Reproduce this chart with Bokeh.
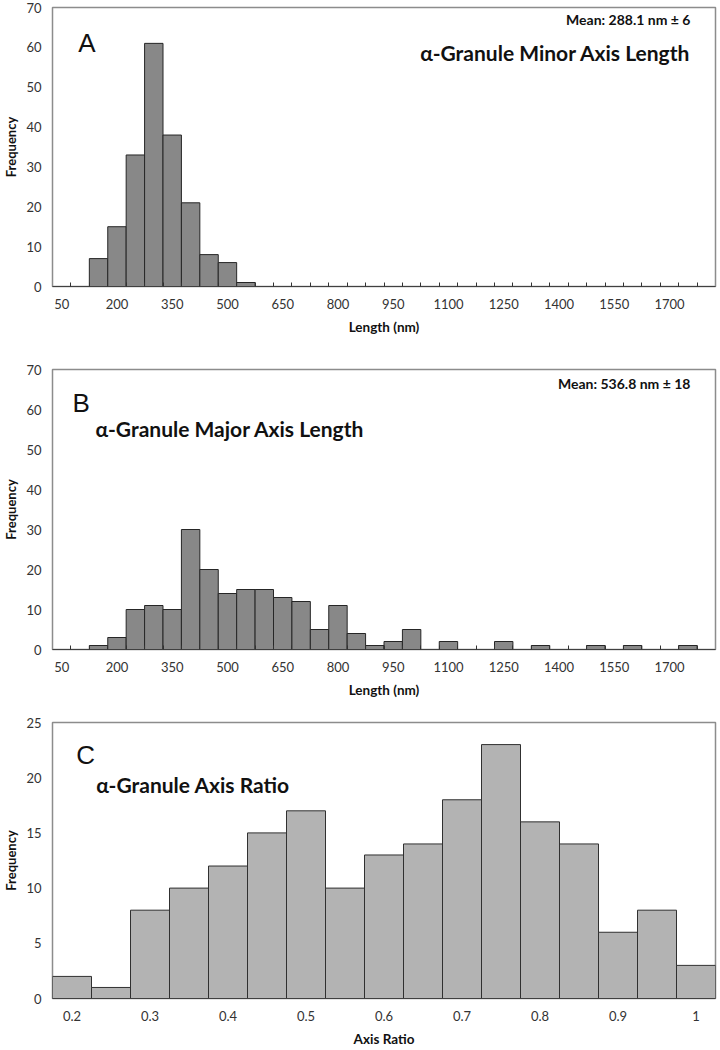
from bokeh.plotting import figure
from bokeh.models import Label, FixedTicker
from bokeh.layouts import column
from bokeh.embed import file_html
from bokeh.resources import INLINE

# ---------------- data ----------------
length_bins = [50, 100, 150, 200, 250, 300, 350, 400, 450, 500, 550, 600,
               650, 700, 750, 800, 850, 900, 950, 1000, 1050, 1100, 1150, 1200,
               1250, 1300, 1350, 1400, 1450, 1500, 1550, 1600, 1650, 1700, 1750, 1800]
minor_counts = [0, 0, 7, 15, 33, 61, 38, 21, 8, 6, 1, 0,
                0, 0, 0, 0, 0, 0, 0, 0, 0, 0, 0, 0,
                0, 0, 0, 0, 0, 0, 0, 0, 0, 0, 0, 0]
major_counts = [0, 0, 1, 3, 10, 11, 10, 30, 20, 14, 15, 15,
                13, 12, 5, 11, 4, 1, 2, 5, 0, 2, 0, 0,
                2, 0, 1, 0, 0, 1, 0, 1, 0, 0, 1, 0]
length_ticks = [50, 200, 350, 500, 650, 800, 950, 1100, 1250, 1400, 1550, 1700]
length_tick_labels = ["50", "200", "350", "500", "650", "800", "950", "1100",
                      "1250", "1400", "1550", "1700"]
length_yticks = [0, 10, 20, 30, 40, 50, 60, 70]

ratio_bins = [0.2, 0.25, 0.3, 0.35, 0.4, 0.45, 0.5, 0.55, 0.6, 0.65, 0.7,
              0.75, 0.8, 0.85, 0.9, 0.95, 1.0]
ratio_counts = [2, 1, 8, 10, 12, 15, 17, 10, 13, 14, 18, 23, 16, 14, 6, 8, 3]
ratio_ticks = [0.2, 0.3, 0.4, 0.5, 0.6, 0.7, 0.8, 0.9, 1.0]
ratio_tick_labels = ["0.2", "0.3", "0.4", "0.5", "0.6", "0.7", "0.8", "0.9", "1"]
ratio_yticks = [0, 5, 10, 15, 20, 25]

titles = ["\u03b1-Granule Minor Axis Length", "\u03b1-Granule Major Axis Length",
          "\u03b1-Granule Axis Ratio"]
means = ["Mean: 288.1 nm \u00b1 6", "Mean: 536.8 nm \u00b1 18"]
panel_letters = ["A", "B", "C"]

FONT = "Lato"
TICK_COLOR = "#333333"
LENGTH_BIN_W = 50
RATIO_BIN_W = 0.05


def style(p, xticks, xlabels, yticks, minor=None, xlabel=""):
    p.outline_line_color = "#8c8c8c"
    p.outline_line_width = 1.5
    p.xgrid.visible = False
    p.ygrid.visible = False
    p.background_fill_color = "white"
    p.border_fill_color = "white"

    xa = p.xaxis[0]
    xa.ticker = FixedTicker(ticks=xticks, minor_ticks=minor or [])
    xa.major_label_overrides = dict(zip(xticks, xlabels))
    xa.major_tick_line_color = None
    xa.major_tick_out = 0
    xa.major_tick_in = 0
    xa.minor_tick_in = 4
    xa.minor_tick_out = 0
    xa.minor_tick_line_color = "#333333" if minor else None
    xa.axis_line_color = "#404040"
    xa.major_label_text_font = FONT
    xa.major_label_text_font_size = "13px"
    xa.major_label_text_color = TICK_COLOR
    xa.major_label_standoff = 12
    xa.axis_label = xlabel
    xa.axis_label_text_font = FONT
    xa.axis_label_text_font_style = "bold"
    xa.axis_label_text_font_size = "13.5px"
    xa.axis_label_text_color = "#111111"
    xa.axis_label_standoff = 7

    ya = p.yaxis[0]
    ya.ticker = FixedTicker(ticks=yticks)
    ya.major_tick_line_color = None
    ya.minor_tick_line_color = None
    ya.major_tick_out = 0
    ya.major_tick_in = 0
    ya.axis_line_color = None
    ya.major_label_text_font = FONT
    ya.major_label_text_font_size = "13px"
    ya.major_label_text_color = TICK_COLOR
    ya.major_label_standoff = 11
    ya.axis_label = "Frequency"
    ya.axis_label_text_font = FONT
    ya.axis_label_text_font_style = "bold"
    ya.axis_label_text_font_size = "13px"
    ya.axis_label_text_color = "#111111"
    ya.axis_label_standoff = 4


def add_text(p, x, y, text, size, bold=True, align="left", font=FONT):
    p.add_layout(Label(x=x, y=y, text=text, text_font=font,
                       text_font_size=size,
                       text_font_style="bold" if bold else "normal",
                       text_align=align, text_baseline="alphabetic",
                       text_color="#111111"))


def length_panel(counts, height, left, right, top, bottom, idx,
                 title_x, title_y, title_align, mean_y, letter_x, letter_y):
    p = figure(width=718, height=height, x_range=(25, 1825), y_range=(0, 70),
               output_backend="svg", toolbar_location=None,
               min_border_left=left, min_border_right=right,
               min_border_top=top, min_border_bottom=bottom)
    xs = [b for b, c in zip(length_bins, counts) if c > 0]
    hs = [c for c in counts if c > 0]
    p.vbar(x=xs, top=hs, width=LENGTH_BIN_W, bottom=0,
           fill_color="#888888", line_color="#262626", line_width=1)
    minor = [b + LENGTH_BIN_W / 2 for b in length_bins[:-1]]
    style(p, length_ticks, length_tick_labels, length_yticks, minor=minor,
          xlabel="Length (nm)")
    add_text(p, letter_x, letter_y, panel_letters[idx], "26px", bold=False,
             font="Liberation Sans")
    add_text(p, 1757, mean_y, means[idx], "14px", align="right")
    add_text(p, title_x, title_y, titles[idx], "21px", align=title_align)
    return p


pA = length_panel(minor_counts, 349, 50, 3, 7, 63, 0, 1757, 58.7, "right", 67.0, 95, 61.0)
pB = length_panel(major_counts, 357, 52, 1, 20, 57, 1, 142, 55.3, "left", 66.5, 79, 61.7)

pC = figure(width=718, height=343, x_range=(0.175, 1.025), y_range=(0, 25),
            output_backend="svg", toolbar_location=None,
            min_border_left=48, min_border_right=1,
            min_border_top=16, min_border_bottom=48)
pC.vbar(x=ratio_bins, top=ratio_counts, width=RATIO_BIN_W, bottom=0,
        fill_color="#b3b3b3", line_color="#303030", line_width=1)
style(pC, ratio_ticks, ratio_tick_labels, ratio_yticks, minor=None, xlabel="Axis Ratio")
add_text(pC, 0.2055, 22.1, panel_letters[2], "26px", bold=False, font="Liberation Sans")
add_text(pC, 0.231, 19.35, titles[2], "21px", align="left")

layout = column(pA, pB, pC, spacing=0)
open("out.html", "w").write(file_html(layout, INLINE))
